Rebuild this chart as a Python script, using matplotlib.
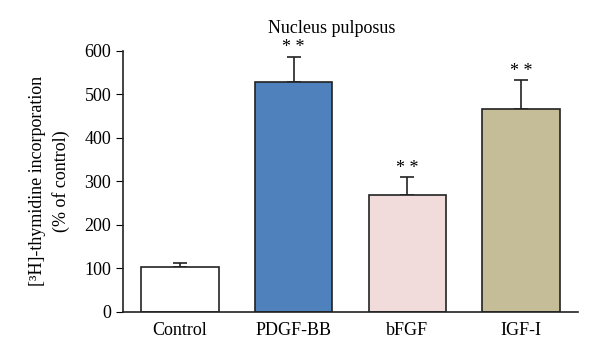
import matplotlib
matplotlib.use('Agg')
import matplotlib.pyplot as plt
import numpy as np

groups = ['Control', 'PDGF-BB', 'bFGF', 'IGF-I']
values = [103, 529, 268, 466]
errors = [10, 58, 41, 67]
colors = ['#ffffff', '#4f81bd', '#f2dcdb', '#c4bd97']

plt.rcParams['font.family'] = ['Liberation Serif', 'DejaVu Serif']

fig = plt.figure(figsize=(6, 3.56), dpi=100)
ax = fig.add_axes([0.205, 0.124, 0.758, 0.733])

x = np.arange(len(groups))
ax.bar(x, values, width=0.68, color=colors, edgecolor='#222222', linewidth=1.2, zorder=2)
ax.errorbar(x, values, yerr=[np.zeros(len(errors)), errors], fmt='none',
            ecolor='#222222', elinewidth=1.2, capsize=5, capthick=1.2, zorder=1)
for xi, v, e in zip(x[1:], values[1:], errors[1:]):
    ax.text(xi, v + e + 1, '* *', ha='center', va='bottom', fontsize=13)

ax.set_xlim(-0.5, 3.5)
ax.set_ylim(0, 600)
ax.set_yticks(np.arange(0, 601, 100))
ax.set_xticks(x)
ax.set_xticklabels(groups)
ax.tick_params(axis='x', length=0, pad=7, labelsize=13)
ax.tick_params(axis='y', direction='out', length=5, labelsize=13)
ax.spines['top'].set_visible(False)
ax.spines['right'].set_visible(False)
for s in ['left', 'bottom']:
    ax.spines[s].set_linewidth(1.2)
    ax.spines[s].set_color('#222222')
ax.set_ylabel('[³H]-thymidine incorporation\n(% of control)', fontsize=13,
              labelpad=10, linespacing=1.45)
fig.text(0.552, 0.895, 'Nucleus pulposus', ha='center', va='bottom', fontsize=13)

fig.savefig('out.png', dpi=100)
